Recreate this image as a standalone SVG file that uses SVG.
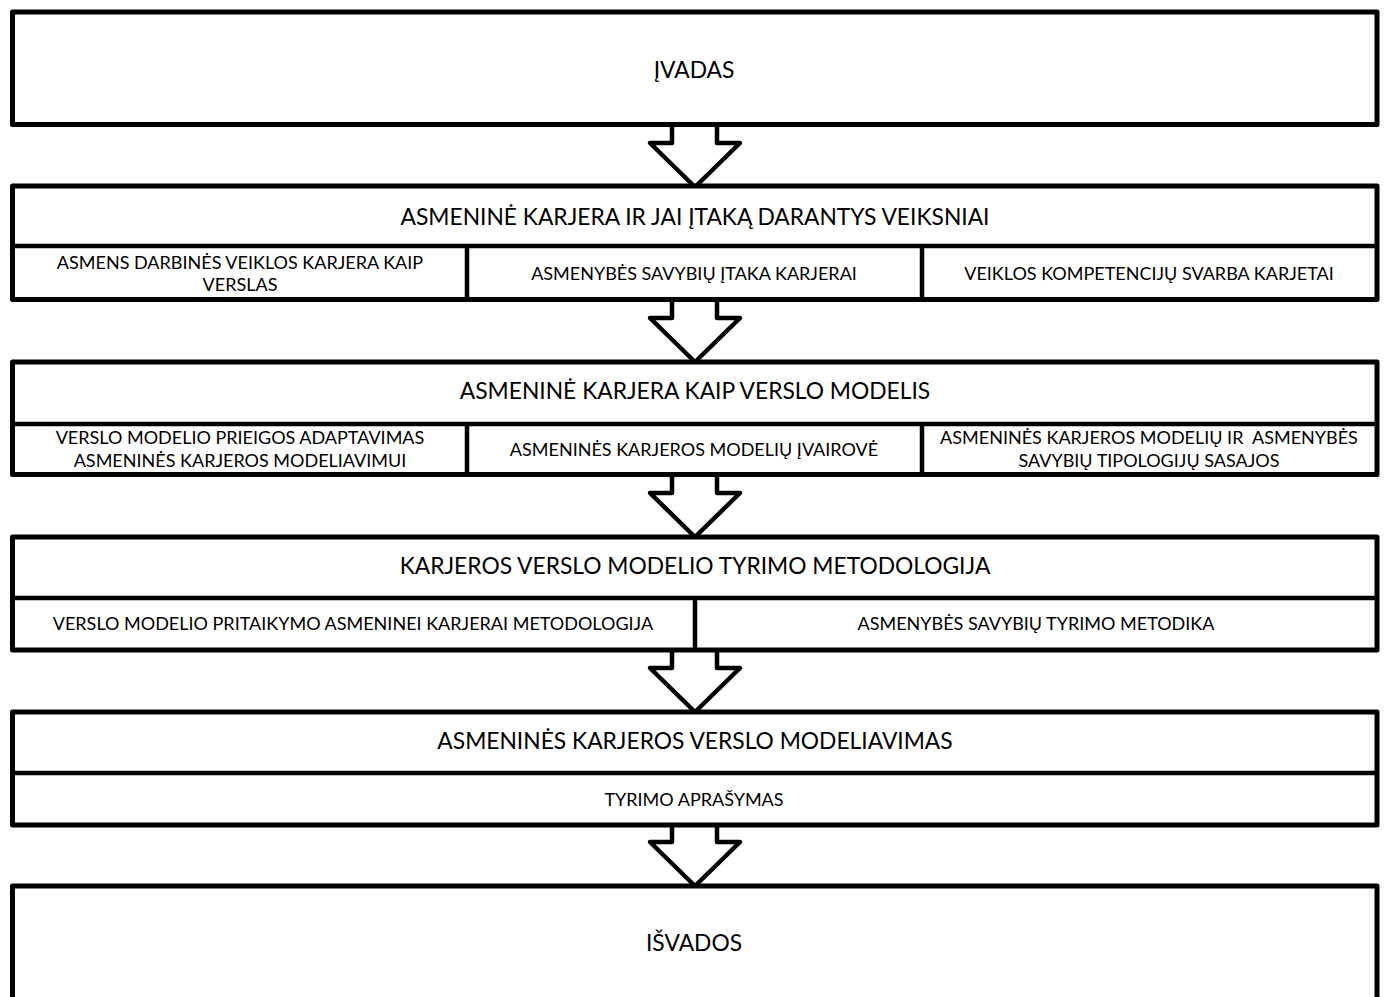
<svg xmlns="http://www.w3.org/2000/svg" width="1384" height="997" viewBox="0 0 1384 997">
<style>
.box{fill:#fff;stroke:#000;stroke-width:5;stroke-linejoin:round}
.ln{stroke:#000;stroke-width:4.5;fill:none}
.arr{fill:#fff;stroke:#000;stroke-width:4.5;stroke-linejoin:round}
text{font-family:Lato,"Liberation Sans",sans-serif;fill:#000;text-anchor:middle}
.h{font-size:22.8px}
.s{font-size:18px}
</style>
<rect width="1384" height="997" fill="#fff"/>
<g id="connectors">
<path class="arr" d="M672,124 V143 H650 L695,187 L740,143 H717 V124"/>
<path class="arr" d="M672,300 V318 H650 L695,362 L740,318 H717 V300"/>
<path class="arr" d="M672,475 V493 H650 L695,537 L740,493 H717 V475"/>
<path class="arr" d="M672,650 V668 H650 L695,712 L740,668 H717 V650"/>
<path class="arr" d="M672,825 V842 H650 L695,886 L740,842 H717 V825"/>
</g>
<g id="ivadas">
<rect class="box" x="12.5" y="12" width="1364.5" height="112.5"/>
<text class="h" x="694" y="78">ĮVADAS</text>
</g>
<g id="section1">
<rect class="box" x="12.5" y="186" width="1364.5" height="113.5"/>
<line class="ln" x1="12.5" y1="246" x2="1377" y2="246"/>
<line class="ln" x1="467" y1="246" x2="467" y2="299.5"/>
<line class="ln" x1="922" y1="246" x2="922" y2="299.5"/>
<text class="h" x="695" y="225">ASMENINĖ KARJERA IR JAI ĮTAKĄ DARANTYS VEIKSNIAI</text>
<text class="s" x="240" y="268.5">ASMENS DARBINĖS VEIKLOS KARJERA KAIP</text>
<text class="s" x="240" y="290.5">VERSLAS</text>
<text class="s" x="694" y="279.5">ASMENYBĖS SAVYBIŲ ĮTAKA KARJERAI</text>
<text class="s" x="1149" y="279.5">VEIKLOS KOMPETENCIJŲ SVARBA KARJETAI</text>
</g>
<g id="section2">
<rect class="box" x="12.5" y="362" width="1364.5" height="112.5"/>
<line class="ln" x1="12.5" y1="424" x2="1377" y2="424"/>
<line class="ln" x1="467" y1="424" x2="467" y2="474.5"/>
<line class="ln" x1="922" y1="424" x2="922" y2="474.5"/>
<text class="h" x="695" y="399">ASMENINĖ KARJERA KAIP VERSLO MODELIS</text>
<text class="s" x="240" y="443.5">VERSLO MODELIO PRIEIGOS ADAPTAVIMAS</text>
<text class="s" x="240" y="466.5">ASMENINĖS KARJEROS MODELIAVIMUI</text>
<text class="s" x="694" y="455.5">ASMENINĖS KARJEROS MODELIŲ ĮVAIROVĖ</text>
<text class="s" x="1149" y="443.5" xml:space="preserve">ASMENINĖS KARJEROS MODELIŲ IR  ASMENYBĖS</text>
<text class="s" x="1149" y="466.5">SAVYBIŲ TIPOLOGIJŲ SASAJOS</text>
</g>
<g id="section3">
<rect class="box" x="12.5" y="537" width="1364.5" height="113"/>
<line class="ln" x1="12.5" y1="598" x2="1377" y2="598"/>
<line class="ln" x1="695" y1="598" x2="695" y2="650"/>
<text class="h" x="695" y="574">KARJEROS VERSLO MODELIO TYRIMO METODOLOGIJA</text>
<text class="s" x="353" y="629.5">VERSLO MODELIO PRITAIKYMO ASMENINEI KARJERAI METODOLOGIJA</text>
<text class="s" x="1036" y="629.5">ASMENYBĖS SAVYBIŲ TYRIMO METODIKA</text>
</g>
<g id="section4">
<rect class="box" x="12.5" y="712" width="1364.5" height="113"/>
<line class="ln" x1="12.5" y1="773" x2="1377" y2="773"/>
<text class="h" x="695" y="749">ASMENINĖS KARJEROS VERSLO MODELIAVIMAS</text>
<text class="s" x="694" y="805.5">TYRIMO APRAŠYMAS</text>
</g>
<g id="isvados">
<rect class="box" x="12.5" y="886" width="1364.5" height="130"/>
<text class="h" x="694" y="951">IŠVADOS</text>
</g>
</svg>
